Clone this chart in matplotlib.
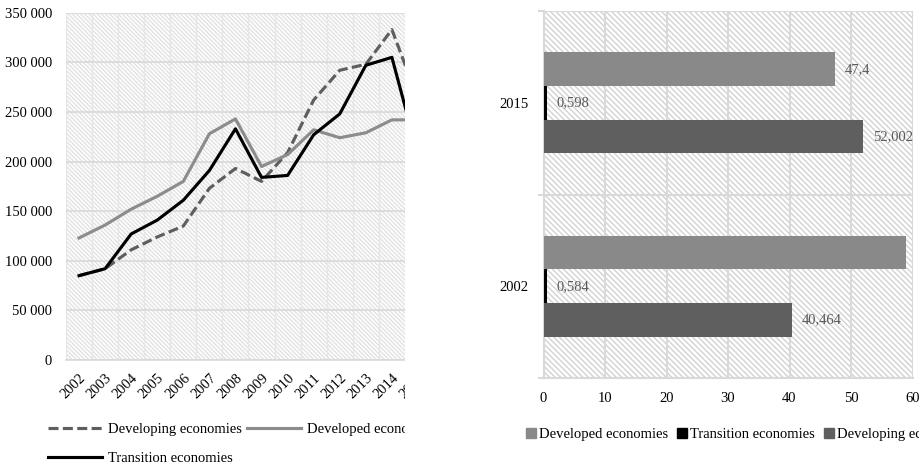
import matplotlib
matplotlib.use("Agg")
from matplotlib import pyplot as plt
from matplotlib.patches import Rectangle, Patch
from matplotlib.lines import Line2D
from matplotlib.ticker import FuncFormatter, MultipleLocator
import numpy as np

plt.rcParams['font.family'] = ['Liberation Serif', 'DejaVu Serif']
plt.rcParams['hatch.linewidth'] = 1.0

# line chart data
years = ['2002', '2003', '2004', '2005', '2006', '2007', '2008', '2009',
         '2010', '2011', '2012', '2013', '2014', '2015']
developing = [85000, 92000, 111000, 124000, 135000, 173000, 193000, 180000,
              209000, 262000, 292000, 298000, 333000, 263000]
developed = [123000, 136000, 152000, 165000, 180000, 228000, 243000, 195000,
             207000, 232000, 224000, 229000, 242000, 242000]
transition = [85000, 92000, 127000, 141000, 161000, 191000, 233000, 184000,
              186000, 227000, 248000, 297000, 305000, 207000]

# bar chart data (shares, %)
bar_years = ['2002', '2015']
share_developed = [58.952, 47.4]
share_transition = [0.584, 0.598]
share_developing = [40.464, 52.002]

GRID = '#d9d9d9'
TXT = '#000000'
FS = 10.5

fig = plt.figure(figsize=(9.19, 4.66), dpi=100)
W, H = 919, 466

def px(x0, y0, x1, y1):
    return [x0 / W, 1 - y1 / H, (x1 - x0) / W, (y1 - y0) / H]

# ---- left: line chart ----
ax = fig.add_axes(px(66, 12.7, 431, 360))
ax.patch.set_facecolor('white')
ax.patch.set_edgecolor('#e2e2e2')
ax.patch.set_hatch('\\' * 8)
x = np.arange(len(years))
ax.plot(x, developing, color='#5e5e5e', lw=2.25, ls=(0, (3.2, 1.4)), zorder=3)
ax.plot(x, developed, color='#8c8c8c', lw=2.25, zorder=3)
ax.plot(x, transition, color='black', lw=2.25, zorder=4)
ax.set_xlim(-0.5, len(years) - 0.5)
ax.set_ylim(0, 350000)
ax.yaxis.set_major_locator(MultipleLocator(50000))
ax.yaxis.set_major_formatter(FuncFormatter(lambda v, p: f"{v:,.0f}".replace(',', ' ')))
ax.grid(axis='y', color=GRID, lw=1.2)
ax.set_xticks(x)
ax.set_xticklabels(years, rotation=45, ha='right', rotation_mode='anchor')
ax.set_xticks(np.arange(-0.5, len(years)), minor=True)
ax.grid(axis='x', which='minor', color='#e6e6e6', lw=1.0)
ax.set_axisbelow(True)
ax.tick_params(axis='x', which='both', length=0, pad=8, labelsize=FS, colors=TXT)
ax.tick_params(axis='y', length=0, pad=10, labelsize=FS, colors=TXT)
for s in ['left', 'right', 'top']:
    ax.spines[s].set_visible(False)
ax.spines['bottom'].set_color(GRID)
ax.spines['bottom'].set_linewidth(1.2)

h_dev = Line2D([], [], color='#5e5e5e', lw=2.25, ls=(0, (3.2, 1.4)))
h_dvd = Line2D([], [], color='#8c8c8c', lw=2.25)
h_tr = Line2D([], [], color='black', lw=2.25)
fig.legend([h_dev, h_tr, h_dvd],
           ['Developing economies', 'Transition economies', 'Developed economies'],
           ncol=2, loc='upper left', bbox_to_anchor=(48 / W, 1 - 423 / H),
           frameon=False, fontsize=FS, handlelength=3.7, handletextpad=0.4,
           columnspacing=0.35, labelspacing=1.1, borderaxespad=0, borderpad=0)

# ---- right: bar chart ----
bx = fig.add_axes(px(543.5, 11, 912.5, 378))
bx.patch.set_facecolor('white')
bx.patch.set_edgecolor('#d2d2d2')
bx.patch.set_hatch('\\' * 6)
y = np.arange(len(bar_years))
bh = 0.1826
bars = [
    (share_developed, '#898989', bh, 'Developed economies'),
    (share_transition, '#000000', 0, 'Transition economies'),
    (share_developing, '#5f5f5f', -bh, 'Developing economies'),
]
for vals, col, off, lab in bars:
    rects = bx.barh(y + off, vals, height=bh, color=col, zorder=3, label=lab)
    for r, v in zip(rects, vals):
        if v > 55:
            continue  # its label lies past the cropped right edge
        s = f"{v:g}".replace('.', ',')
        bx.annotate(s, (r.get_width(), r.get_y() + r.get_height() / 2),
                    xytext=(7, 0), textcoords='offset points', va='center',
                    ha='left', fontsize=FS, color='#595959', zorder=5)
bx.set_xlim(0, 60)
bx.set_ylim(-0.5, len(bar_years) - 0.5)
bx.xaxis.set_major_locator(MultipleLocator(10))
bx.set_yticks(y)
bx.set_yticklabels(bar_years)
bx.set_yticks(np.arange(-0.5, len(bar_years)), minor=True)
bx.grid(axis='x', color=GRID, lw=1.5)
bx.grid(axis='y', which='minor', color=GRID, lw=1.5)
bx.set_axisbelow(True)
bx.tick_params(axis='x', length=0, pad=10, labelsize=FS, colors=TXT)
bx.tick_params(axis='y', which='major', length=0, pad=11, labelsize=FS, colors=TXT)
bx.tick_params(axis='y', which='minor', length=4, color=GRID, width=1.5)
for s in ['right', 'top']:
    bx.spines[s].set_visible(False)
for s in ['left', 'bottom']:
    bx.spines[s].set_color(GRID)
    bx.spines[s].set_linewidth(1.5)

fig.legend([Patch(color=c) for _, c, _, _ in bars], [b[3] for b in bars],
           ncol=3, loc='upper left', bbox_to_anchor=(526 / W, 1 - 428 / H),
           frameon=False, fontsize=FS, handlelength=0.7, handleheight=0.7,
           handletextpad=0.2, columnspacing=0.6, borderaxespad=0, borderpad=0)

# the source picture is cropped: mask the gap between the two charts
fig.patches.append(Rectangle((405 / W, 0), 93 / W, 1, transform=fig.transFigure,
                             facecolor='white', edgecolor='none', zorder=10))

fig.savefig('out.png', dpi=100)
